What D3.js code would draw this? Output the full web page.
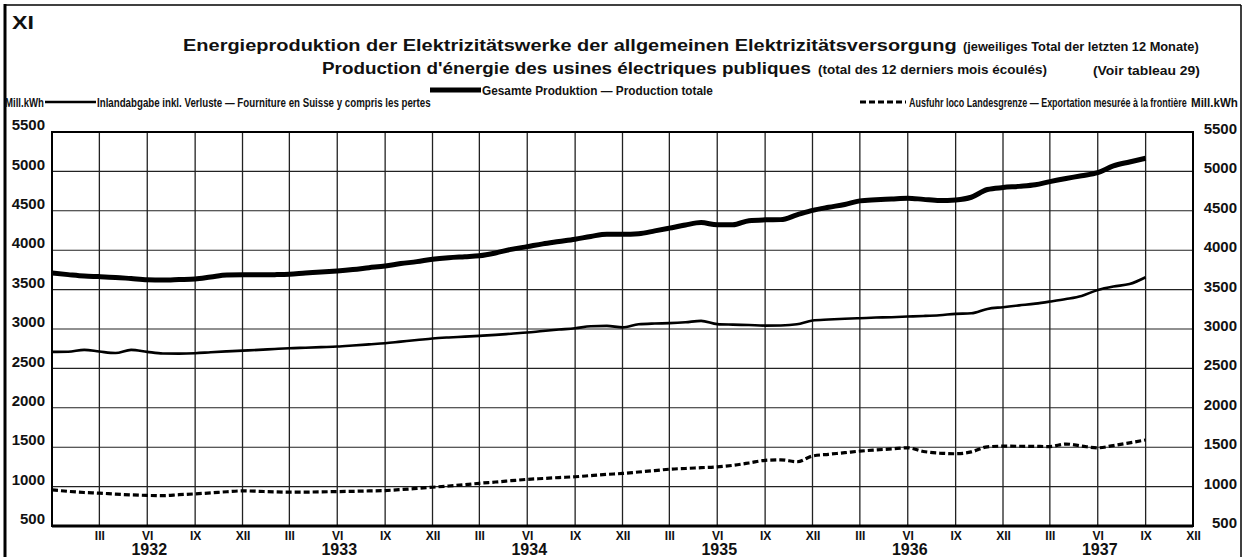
<!DOCTYPE html>
<html><head><meta charset="utf-8">
<script src="https://cdn.jsdelivr.net/npm/d3@7"></script>
<style>
html,body{margin:0;padding:0;background:#fff;}
svg{display:block;}
text{font-family:"Liberation Sans","Arial",sans-serif;font-weight:bold;fill:#111;}
</style></head>
<body>
<script>
// ---- data (monthly, 12-month running totals, Mill. kWh) ----
const months = d3.range(0, 70).map(i => new Date(1931, 11 + i, 1)); // Dec 1931 .. Sep 1937
const totalProduction = [3710,3690,3672,3665,3655,3640,3625,3622,3628,3635,3660,3685,
  3688,3688,3690,3695,3710,3722,3737,3755,3778,3800,3830,3855,
  3885,3905,3918,3930,3965,4010,4045,4080,4110,4140,4175,4203,
  4203,4210,4245,4280,4320,4350,4322,4322,4375,4385,4388,4448,
  4505,4545,4580,4626,4640,4650,4660,4645,4630,4638,4672,4770,
  4795,4810,4830,4870,4910,4945,4985,5070,5120,5167];
const domesticSupply = [2710,2712,2735,2714,2695,2735,2710,2690,2688,2693,2705,2716,
  2726,2735,2746,2756,2763,2770,2777,2790,2805,2820,2840,2860,
  2880,2893,2903,2913,2925,2940,2955,2975,2993,3010,3035,3040,
  3020,3060,3070,3074,3085,3103,3062,3055,3050,3043,3045,3060,
  3107,3120,3130,3137,3145,3150,3158,3165,3175,3192,3200,3255,
  3277,3300,3322,3348,3380,3420,3496,3540,3570,3657];
const exportFrontier = [958,940,925,917,905,895,888,885,897,908,920,935,
  946,940,933,929,930,933,937,940,945,950,962,977,
  992,1008,1025,1042,1058,1075,1092,1103,1115,1125,1140,1155,
  1167,1185,1203,1221,1230,1240,1250,1270,1300,1333,1340,1315,
  1388,1410,1430,1450,1465,1478,1492,1446,1425,1417,1440,1505,
  1513,1512,1510,1508,1540,1515,1492,1520,1555,1592];
const yTicks = [500,1000,1500,2000,2500,3000,3500,4000,4500,5000,5500];
const quarterLabels = ["III","VI","IX","XII"];
const years = [1932,1933,1934,1935,1936,1937];

// ---- layout ----
const W = 1245, H = 557;
const L = 52, R = 1193, T = 132, B = 526;
const svg = d3.select("body").append("svg").attr("width", W).attr("height", H);

const x = d3.scaleTime().domain([new Date(1931,11,1), new Date(1937,11,1)]).range([L, R]);
const y = d3.scaleLinear().domain([500, 5500]).range([B, T]);

// text fitted horizontally to a target width (keeps the glyph height)
function fitText(parent, px, py, str, size, targetW, anchor) {
  const t = parent.append("text").attr("x",0).attr("y",0).style("font-size", size + "px")
    .attr("text-anchor", anchor || "start").text(str);
  const w = t.node().getComputedTextLength();
  const sx = targetW / w;
  t.attr("transform", `translate(${px},${py}) scale(${sx},1)`);
  return t;
}

// outer frame
svg.append("line").attr("x1",5).attr("x2",5).attr("y1",4).attr("y2",H).attr("stroke","#000").attr("stroke-width",3);
svg.append("line").attr("x1",4).attr("x2",1241).attr("y1",5).attr("y2",5).attr("stroke","#000").attr("stroke-width",1.5);
svg.append("line").attr("x1",1241).attr("x2",1241).attr("y1",5).attr("y2",H).attr("stroke","#000").attr("stroke-width",1.5);

// title block
fitText(svg, 12, 29, "XI", 19, 22);
fitText(svg, 183, 51, "Energieproduktion der Elektrizitätswerke der allgemeinen Elektrizitätsversorgung", 16, 774);
fitText(svg, 963, 51, "(jeweiliges Total der letzten 12 Monate)", 12, 236);
fitText(svg, 322, 74, "Production d'énergie des usines électriques publiques", 16, 489);
fitText(svg, 818, 74, "(total des 12 derniers mois écoulés)", 12, 229);
fitText(svg, 1093, 75, "(Voir tableau 29)", 12, 107);

// legends
svg.append("line").attr("x1",430).attr("x2",481).attr("y1",90).attr("y2",90).attr("stroke","#000").attr("stroke-width",5);
fitText(svg, 482, 94.5, "Gesamte Produktion — Production totale", 12.5, 231);
fitText(svg, 5, 106.5, "Mill.kWh", 12, 39);
svg.append("line").attr("x1",45).attr("x2",96).attr("y1",102).attr("y2",102).attr("stroke","#000").attr("stroke-width",2.5);
fitText(svg, 97, 106.5, "Inlandabgabe inkl. Verluste — Fourniture en Suisse y compris les pertes", 12.5, 334);
svg.append("line").attr("x1",860).attr("x2",906).attr("y1",102).attr("y2",102).attr("stroke","#000").attr("stroke-width",3).attr("stroke-dasharray","6,3");
fitText(svg, 909, 106.5, "Ausfuhr loco Landesgrenze — Exportation mesurée à la frontière", 12.5, 278);
fitText(svg, 1191, 106.5, "Mill.kWh", 12, 47);

// grid
const g = svg.append("g");
g.selectAll("line.h").data(yTicks).join("line").attr("class","h")
  .attr("x1",L).attr("x2",R).attr("y1",d=>y(d)).attr("y2",d=>y(d)).attr("stroke","#222").attr("stroke-width",1.1);
const qDates = d3.range(1, 24).map(i => new Date(1931, 11 + 3*i, 1));
g.selectAll("line.v").data(qDates).join("line").attr("class","v")
  .attr("x1",d=>x(d)).attr("x2",d=>x(d)).attr("y1",T).attr("y2",B).attr("stroke","#222").attr("stroke-width",1.3);
g.append("rect").attr("x",L).attr("y",T).attr("width",R-L).attr("height",B-T).attr("fill","none").attr("stroke","#000").attr("stroke-width",2);
g.append("line").attr("x1",L).attr("x2",R).attr("y1",B).attr("y2",B).attr("stroke","#000").attr("stroke-width",3);

// y axis labels (left and right)
const fmt = d3.format("d");
const yl = d3.axisLeft(y).tickValues(yTicks).tickSize(0).tickPadding(7).tickFormat(fmt);
const ay = svg.append("g").attr("transform",`translate(${L},0)`).call(yl);
ay.select(".domain").remove();
ay.selectAll("text").attr("dy","-0.15em").style("font-size","15px").style("font-family","'Liberation Sans',Arial,sans-serif").style("font-weight","bold").attr("fill","#111");
const yr = d3.axisRight(y).tickValues(yTicks).tickSize(0).tickPadding(0).tickFormat(fmt);
const ary = svg.append("g").attr("transform",`translate(1237,0)`).call(yr);
ary.select(".domain").remove();
ary.selectAll("text").attr("text-anchor","end").attr("x",0).attr("dy","0.1em").style("font-size","15px").style("font-family","'Liberation Sans',Arial,sans-serif").style("font-weight","bold").attr("fill","#111");

// x axis: roman month labels and years
const qAll = d3.range(1, 25).map(i => new Date(1931, 11 + 3*i, 1));
const ax = d3.axisBottom(x).tickValues(qAll).tickSize(0).tickPadding(5)
  .tickFormat((d,i) => quarterLabels[i % 4]);
const axg = svg.append("g").attr("transform",`translate(0,${B})`).call(ax);
axg.select(".domain").remove();
axg.selectAll("text").style("font-size","12px").style("font-family","'Liberation Sans',Arial,sans-serif").style("font-weight","bold").attr("fill","#111");
svg.selectAll("text.yr").data(years).join("text").attr("class","yr")
  .attr("x",d=>x(new Date(d,5,1))+2).attr("y",555).attr("text-anchor","middle").style("font-size","16px").text(d=>d);

// series
svg.append("clipPath").attr("id","clip").append("rect").attr("x",L).attr("y",T-10).attr("width",R-L).attr("height",B-T+20);
const line = d3.line().x((d,i)=>x(months[i])).y(d=>y(d)).curve(d3.curveMonotoneX);
const lines = svg.append("g").attr("clip-path","url(#clip)");
lines.append("path").datum(totalProduction).attr("d",line).attr("fill","none").attr("stroke","#000").attr("stroke-width",5).attr("stroke-linejoin","round");
lines.append("path").datum(domesticSupply).attr("d",line).attr("fill","none").attr("stroke","#000").attr("stroke-width",2.6).attr("stroke-linejoin","round");
lines.append("path").datum(exportFrontier).attr("d",line).attr("fill","none").attr("stroke","#000").attr("stroke-width",3.2).attr("stroke-dasharray","6,3");
</script>
</body></html>
